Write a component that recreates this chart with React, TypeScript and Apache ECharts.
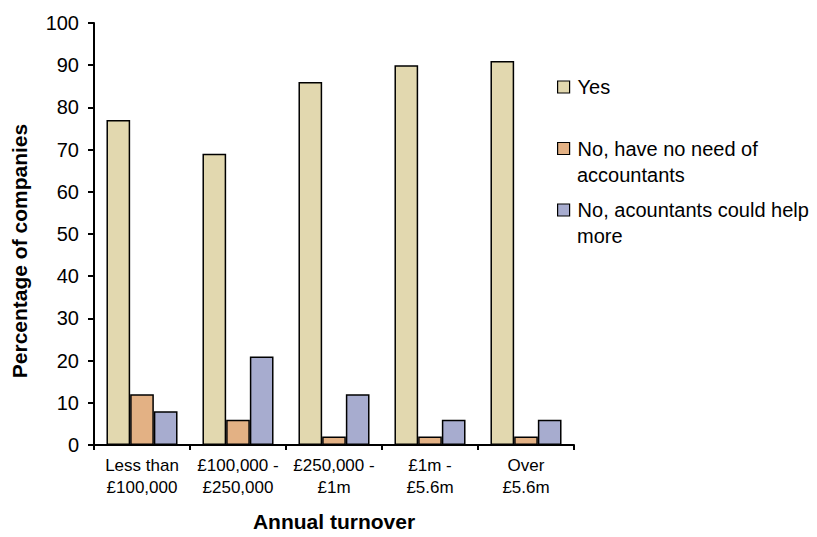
import React, { useEffect, useRef } from "react";
import * as echarts from "echarts";

const categories = [
  "Less than\n£100,000",
  "£100,000 -\n£250,000",
  "£250,000 -\n£1m",
  "£1m -\n£5.6m",
  "Over\n£5.6m",
];
const seriesNames = [
  "Yes",
  "No, have no need of accountants",
  "No, acountants could help more",
];
const legendFirstLines = ["Yes", "No, have no need of", "No, acountants could help"];
const legendSecondLines = ["", "accountants", "more"];
const yesValues = [77, 69, 86, 90, 91];
const noNeedValues = [12, 6, 2, 2, 2];
const couldHelpValues = [8, 21, 12, 6, 6];
const colors = ["#E2D8AF", "#E3B184", "#A7ACCF"];

const FONT = "'Liberation Sans', Arial, sans-serif";

export default function App() {
  const ref = useRef<HTMLDivElement>(null);
  useEffect(() => {
    document.body.style.margin = "0";
    if (!ref.current) return;
    const chart = echarts.init(ref.current, undefined, { renderer: "svg" });
    const values = [yesValues, noNeedValues, couldHelpValues];
    const firstCenter = 87;
    const legendStep = 61.5;
    chart.setOption({
      animation: false,
      backgroundColor: "#ffffff",
      textStyle: { fontFamily: FONT, color: "#000" },
      grid: { left: 94, top: 23, right: 243, bottom: 85 },
      legend: {
        orient: "vertical",
        left: 557,
        top: firstCenter - 12,
        padding: 0,
        itemGap: legendStep - 24,
        itemWidth: 12,
        itemHeight: 12,
        icon: "rect",
        itemStyle: { borderColor: "#000", borderWidth: 1.2 },
        textStyle: {
          fontSize: 20,
          lineHeight: 24,
          color: "#000",
          fontFamily: FONT,
          padding: [0, 0, 0, 3],
        },
        formatter: (name: string) => legendFirstLines[seriesNames.indexOf(name)],
        data: seriesNames,
      },
      graphic: legendSecondLines
        .map((t, i) =>
          t
            ? {
                type: "text",
                left: 577,
                top: firstCenter + i * legendStep + 27 - 11,
                style: { text: t, fontSize: 20, fontFamily: FONT, fill: "#000" },
              }
            : null
        )
        .filter(Boolean),
      xAxis: {
        type: "category",
        data: categories,
        name: "Annual turnover",
        nameLocation: "middle",
        nameGap: 66,
        nameTextStyle: { fontSize: 21, fontWeight: "bold", color: "#000", fontFamily: FONT },
        axisLine: { lineStyle: { color: "#000", width: 2 } },
        axisTick: { show: true, length: 5, lineStyle: { color: "#000", width: 2 } },
        axisLabel: {
          fontSize: 17,
          lineHeight: 22,
          color: "#000",
          margin: 9,
          interval: 0,
          fontFamily: FONT,
        },
      },
      yAxis: {
        type: "value",
        min: 0,
        max: 100,
        interval: 10,
        name: "Percentage of companies",
        nameLocation: "middle",
        nameGap: 64,
        nameTextStyle: {
          fontSize: 21,
          fontWeight: "bold",
          color: "#000",
          fontFamily: FONT,
          padding: [0, 34, 0, 0],
        },
        axisLine: { show: true, lineStyle: { color: "#000", width: 2 } },
        axisTick: { show: true, length: 6, lineStyle: { color: "#000", width: 2 } },
        axisLabel: { fontSize: 20, color: "#000", margin: 15, fontFamily: FONT },
        splitLine: { show: false },
      },
      series: seriesNames.map((name, i) => ({
        name,
        type: "bar",
        data: values[i],
        barGap: "0%",
        barCategoryGap: "26%",
        itemStyle: { color: colors[i], borderColor: "#000", borderWidth: 1.5 },
      })),
    });
    return () => chart.dispose();
  }, []);
  return <div ref={ref} style={{ width: 817, height: 537 }} />;
}
